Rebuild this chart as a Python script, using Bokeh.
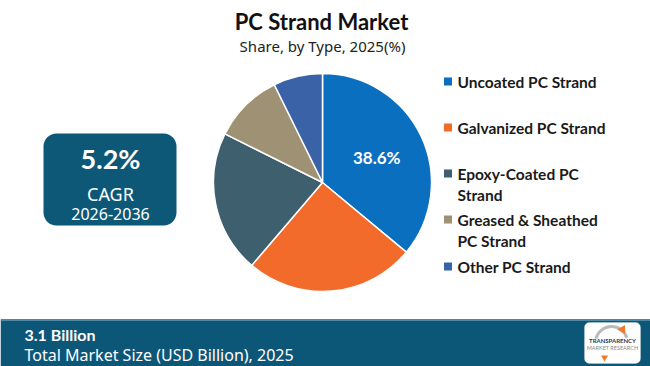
import math
from bokeh.plotting import figure
from bokeh.models import Range1d, BoxAnnotation, ColumnDataSource
from bokeh.core.properties import value
from bokeh.embed import file_html
from bokeh.resources import INLINE

# ---- data ----
categories = ["Uncoated PC Strand", "Galvanized PC Strand", "Epoxy-Coated PC Strand",
              "Greased & Sheathed PC Strand", "Other PC Strand"]
legend_lines = [["Uncoated PC Strand"], ["Galvanized PC Strand"], ["Epoxy-Coated PC", "Strand"],
                ["Greased & Sheathed", "PC Strand"], ["Other PC Strand"]]
shares = [38.6, 27.0, 22.6, 11.1, 7.8]
colors = ["#0b6fc0", "#f26b2b", "#3e5f6e", "#9f9173", "#3a63a7"]
title = "PC Strand Market"
subtitle = "Share, by Type, 2025(%)"
cagr_value = "5.2%"
cagr_label = "CAGR"
cagr_period = "2026-2036"
market_size = "3.1 Billion"
market_label = "Total Market Size (USD Billion), 2025"

W, H = 650, 366
def Y(ry):
    return H - ry

p = figure(width=W, height=H, output_backend="svg", toolbar_location=None,
           x_range=Range1d(0, W), y_range=Range1d(0, H), min_border=0)
p.axis.visible = False
p.grid.visible = False
p.outline_line_color = None
p.background_fill_color = "white"
p.border_fill_color = "white"

def box(l, r_, t, b, color, radius=0, line=None):
    p.add_layout(BoxAnnotation(left=l, right=r_, top=Y(t), bottom=Y(b), fill_color=color,
                               fill_alpha=1, line_color=line, border_radius=radius, level="underlay"))

# ---- title ----
p.text(x=[321], y=[Y(21)], text=[title], text_font=value("Lato"), text_font_style="bold",
       text_font_size="22px", text_color="#111111", text_align="center", text_baseline="middle")
p.text(x=[322], y=[Y(45)], text=[subtitle], text_font=value("Noto Sans"),
       text_font_size="15px", text_color="#222222", text_align="center", text_baseline="middle")

# ---- pie ----
cx, cy, r = 322, Y(182), 109
total = sum(shares)
starts, ends = [], []
cum = 0.0
for s in shares:
    starts.append(math.pi / 2 - 2 * math.pi * cum / total)
    cum += s
    ends.append(math.pi / 2 - 2 * math.pi * cum / total)
src = ColumnDataSource(dict(start=starts, end=ends, color=colors, cat=categories))
p.wedge(x=cx, y=cy, radius=r, start_angle="start", end_angle="end", direction="clock",
        fill_color="color", line_color="white", line_width=1.5, source=src)

# label of the largest slice
mid = (starts[0] + ends[0]) / 2
lx = cx + 0.55 * r * math.cos(mid)
ly = cy + 0.55 * r * math.sin(mid)
p.text(x=[lx], y=[ly], text=[f"{shares[0]:.1f}%"], text_font=value("Lato"), text_font_style="bold",
       text_font_size="17px", text_color="white", text_align="center", text_baseline="middle")

# ---- legend ----
item_y = [81, 127, 173, 219, 266]
line_gap = 21
for i, lines in enumerate(legend_lines):
    p.scatter(x=[447.5], y=[Y(item_y[i])], marker="square", size=8, fill_color=colors[i], line_color=None)
    for j, t in enumerate(lines):
        p.text(x=[457], y=[Y(item_y[i] + j * line_gap)], text=[t], text_font=value("Lato"),
               text_font_style="bold", text_font_size="15.5px", text_color="#1a1a1a",
               text_align="left", text_baseline="middle")

# ---- CAGR box ----
box(43, 176, 133, 225, "#0d5877", radius=13)
p.text(x=[110], y=[Y(158)], text=[cagr_value], text_font=value("Lato"), text_font_style="bold",
       text_font_size="27px", text_color="white", text_align="center", text_baseline="middle")
p.text(x=[110], y=[Y(193)], text=[cagr_label], text_font=value("Noto Sans"),
       text_font_size="18px", text_color="white", text_align="center", text_baseline="middle")
p.text(x=[110], y=[Y(213)], text=[cagr_period], text_font=value("Noto Sans"),
       text_font_size="16px", text_color="white", text_align="center", text_baseline="middle")

# ---- bottom bar ----
box(0, W, 320, 366, "#0c5678")
box(0, W, 318.5, 320.5, "#4f88a4")
p.text(x=[24], y=[Y(334)], text=[market_size], text_font=value("Lato"), text_font_style="bold",
       text_font_size="16px", text_color="white", text_align="left", text_baseline="middle")
p.text(x=[24], y=[Y(354)], text=[market_label], text_font=value("Noto Sans"),
       text_font_size="16px", text_color="white", text_align="left", text_baseline="middle")

# ---- logo ----
box(584, 640, 322, 363, "white", radius=5, line="#dddddd")
p.arc(x=[611], y=[Y(342)], radius=16, start_angle=0.3, end_angle=2.9, line_color="#bbbbbb", line_width=3)
p.scatter(x=[622], y=[Y(329)], marker="triangle", size=9, fill_color="#f07a2a", line_color=None, angle=-0.5)
p.scatter(x=[604], y=[Y(357)], marker="inverted_triangle", size=7, fill_color="#f07a2a", line_color=None)
p.text(x=[612], y=[Y(340)], text=["TRANSPARENCY"], text_font=value("Lato"), text_font_style="bold",
       text_font_size="6px", text_color="#1d3c5a", text_align="center", text_baseline="middle")
p.text(x=[612], y=[Y(347)], text=["MARKET RESEARCH"], text_font=value("Lato"),
       text_font_size="5.5px", text_color="#888888", text_align="center", text_baseline="middle")

open("out.html", "w").write(file_html(p, INLINE))
